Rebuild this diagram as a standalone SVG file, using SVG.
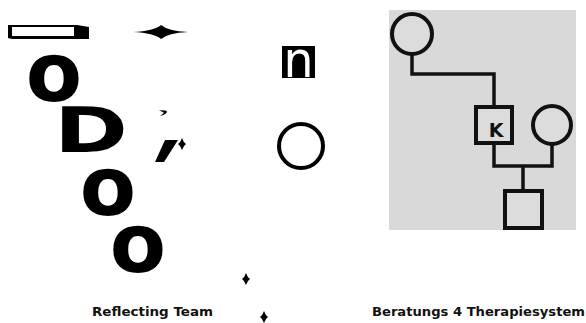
<svg xmlns="http://www.w3.org/2000/svg" width="586" height="323" viewBox="0 0 586 323">
<style>
.big{font-family:"DejaVu Sans",Verdana,sans-serif;font-weight:bold;fill:#000}
.lbl{font-family:"DejaVu Sans",Verdana,sans-serif;font-weight:bold;font-size:13px;fill:#111;text-anchor:middle}
.ln{fill:none;stroke:#111;stroke-width:3.5}
</style>
<defs>
<path id="dia" d="M0,-6 Q1.5,-1.5 4,0 Q1.5,1.5 0,6 Q-1.5,1.5 -4,0 Q-1.5,-1.5 0,-6 Z" fill="#000"/>
</defs>
<rect width="586" height="323" fill="#fff"/>
<g id="bar">
<path d="M8,25 L77,25 L89,27 L89,39 L12,39 L8,38 Z" fill="#000"/>
<rect x="12" y="27" width="62" height="9" fill="#fff"/>
</g>
<g id="star"><path d="M133,32 Q154,31 161,25 Q168,31 188,32 Q168,33 161,39 Q154,33 133,32 Z" fill="#000"/></g>
<g id="o1"><text class="big" x="54" y="101" font-size="82" text-anchor="middle">o</text></g>
<g id="D"><text class="big" x="54" y="152" font-size="62" textLength="74" lengthAdjust="spacingAndGlyphs">D</text></g>
<g id="mark">
<path d="M159,110.5 Q167,109.5 167,112 Q166,114.5 160,116 Q164,113.5 163.5,112.3 Z" fill="#000"/>
<path d="M165,140 L178,140 L164,162 L155,162 Z" fill="#000"/>
<use href="#dia" x="182" y="144"/>
</g>
<g id="o2"><text class="big" x="108" y="215" font-size="82" text-anchor="middle">o</text></g>
<g id="o3"><text class="big" x="138" y="272" font-size="82" text-anchor="middle">o</text></g>
<g id="nbox">
<rect x="282" y="46" width="33" height="32" fill="#000"/>
<text x="298.5" y="77" font-family="DejaVu Sans,sans-serif" font-size="50" fill="#fff" text-anchor="middle" textLength="30" lengthAdjust="spacingAndGlyphs">n</text>
</g>
<g id="circleO"><ellipse cx="301" cy="146" rx="22" ry="22" fill="none" stroke="#000" stroke-width="4"/></g>
<g id="d1"><use href="#dia" x="246" y="279"/></g>
<g id="d2"><use href="#dia" x="264" y="317"/></g>
<g id="panel"><rect x="389" y="10" width="187" height="220" fill="#d9d9d9"/></g>
<g id="connectors">
<polyline class="ln" points="412,54 412,74 494,74 494,106"/>
<polyline class="ln" points="494,144 494,166 552,166 552,145"/>
<line class="ln" x1="523" y1="166" x2="523" y2="190"/>
</g>
<g id="mother"><circle cx="412" cy="34" r="20" fill="#dcdcdc" stroke="#111" stroke-width="4"/></g>
<g id="K"><rect x="476" y="107" width="36" height="36" fill="#dcdcdc" stroke="#111" stroke-width="4"/><text x="496" y="137" font-family="DejaVu Sans,sans-serif" font-weight="bold" font-size="19" fill="#111" text-anchor="middle">K</text></g>
<g id="partner"><circle cx="552" cy="125" r="19" fill="#dcdcdc" stroke="#111" stroke-width="4"/></g>
<g id="child"><rect x="505" y="191" width="37" height="37" fill="#dcdcdc" stroke="#111" stroke-width="4"/></g>
<g id="labels">
<text class="lbl" x="152.5" y="316" textLength="121" lengthAdjust="spacingAndGlyphs">Reflecting Team</text>
<text class="lbl" x="478.5" y="316" textLength="213" lengthAdjust="spacingAndGlyphs">Beratungs 4 Therapiesystem</text>
</g>
</svg>
